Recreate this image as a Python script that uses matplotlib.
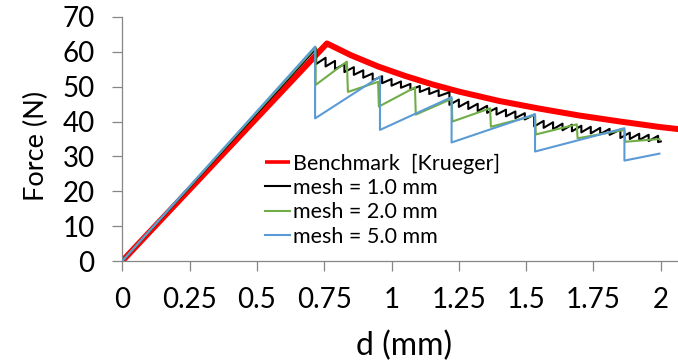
import matplotlib
matplotlib.use("Agg")
import matplotlib.pyplot as plt

plt.rcParams['font.family'] = ['Lato', 'DejaVu Sans']

# Benchmark solution
d_bench = [0.0, 0.76, 0.85, 0.95, 1.05, 1.15, 1.25, 1.40, 1.55, 1.70, 1.85, 2.00, 2.07]
f_bench = [0.0, 62.4, 59.0, 55.8, 53.1, 50.7, 48.6, 45.9, 43.7, 41.7, 40.0, 38.4, 37.8]

# mesh = 1.0 mm : small saw teeth (drop position, value before and after drop)
d_m1 = [0.720, 0.755, 0.790, 0.825, 0.860, 0.895, 0.930, 0.965, 1.000, 1.035,
        1.070, 1.105, 1.140, 1.175, 1.215, 1.250, 1.285, 1.320, 1.355, 1.390,
        1.425, 1.460, 1.495, 1.530, 1.565, 1.600, 1.635, 1.670, 1.705, 1.740,
        1.775, 1.810, 1.850, 1.885, 1.920, 1.955, 1.990]
top_m1 = [61.0, 58.3, 57.4, 56.5, 55.6, 54.7, 53.8, 53.0, 52.2, 51.5,
          50.8, 50.2, 49.6, 49.0, 48.4, 46.3, 45.7, 45.1, 44.5, 43.9,
          43.4, 42.9, 42.4, 42.0, 40.2, 39.8, 39.4, 39.1, 38.8, 38.5,
          38.2, 37.9, 37.7, 36.8, 36.5, 36.2, 35.9]
low_m1 = [56.5, 55.8, 55.0, 54.2, 53.4, 52.6, 51.8, 51.0, 50.3, 49.7,
          49.1, 48.5, 47.9, 47.3, 44.8, 44.2, 43.6, 43.0, 42.5, 42.0,
          41.5, 41.0, 40.6, 38.6, 38.2, 37.8, 37.5, 37.2, 36.9, 36.6,
          36.4, 36.2, 35.3, 35.0, 34.7, 34.4, 34.1]

# mesh = 2.0 mm
d_m2 = [0.0, 0.718, 0.718, 0.834, 0.838, 0.950, 0.953, 1.087, 1.090, 1.223,
        1.226, 1.366, 1.369, 1.533, 1.536, 1.688, 1.691, 1.865, 1.868, 1.995]
f_m2 = [0.0, 61.3, 50.5, 57.2, 48.5, 51.4, 44.3, 49.8, 42.0, 46.5,
        40.0, 43.8, 38.5, 41.8, 36.3, 39.2, 35.2, 37.6, 34.2, 35.0]

# mesh = 5.0 mm
d_m5 = [0.0, 0.716, 0.716, 0.957, 0.957, 1.223, 1.223, 1.533, 1.533, 1.865, 1.865, 1.995]
f_m5 = [0.0, 61.5, 40.9, 52.9, 37.6, 47.0, 34.0, 42.1, 31.4, 38.1, 28.8, 30.8]

xticks = [0, 0.25, 0.5, 0.75, 1, 1.25, 1.5, 1.75, 2]
xlabels = ['0', '0.25', '0.5', '0.75', '1', '1.25', '1.5', '1.75', '2']
yticks = [0, 10, 20, 30, 40, 50, 60, 70]

# build the stepped path for the fine mesh
x1 = [0.0]
y1 = [0.0]
for xd, hi, lo in zip(d_m1, top_m1, low_m1):
    x1 += [xd, xd]
    y1 += [hi, lo]
x1.append(2.0)
y1.append(34.3)

fig = plt.figure(figsize=(6.78, 3.61), dpi=100)
ax = fig.add_axes([0.1804, 0.277, 0.8196, 0.676])

ax.plot(d_bench, f_bench, color='#ff0000', lw=4.3, label='Benchmark  [Krueger]',
        solid_capstyle='butt', zorder=2)
ax.plot(x1, y1, color='black', lw=1.5, label='mesh = 1.0 mm', zorder=3)
ax.plot(d_m2, f_m2, color='#70ad47', lw=1.5, label='mesh = 2.0 mm', zorder=4)
ax.plot(d_m5, f_m5, color='#5b9bd5', lw=1.5, label='mesh = 5.0 mm', zorder=5)

ax.set_xlim(0, 2.064)
ax.set_ylim(0, 70)
ax.set_xticks(xticks)
ax.set_xticklabels(xlabels)
ax.set_yticks(yticks)

for s in ['top', 'right']:
    ax.spines[s].set_visible(False)
for s in ['left', 'bottom']:
    ax.spines[s].set_color('#868686')
    ax.spines[s].set_linewidth(0.9)
ax.tick_params(axis='both', direction='out', length=7, width=0.9, color='#868686',
               labelsize=20)
ax.tick_params(axis='y', pad=13)
ax.tick_params(axis='x', pad=12)

ax.set_xlabel('d (mm)', fontsize=23)
ax.set_ylabel('Force (N)', fontsize=19.5)
ax.xaxis.set_label_coords(0.507, -0.285)
ax.yaxis.set_label_coords(-0.132, 0.47)

leg = ax.legend(loc='center left', bbox_to_anchor=(0.391, 0.446), bbox_transform=fig.transFigure,
                frameon=False, fontsize=15.5, handlelength=1.15, handletextpad=0.15,
                labelspacing=0.2, borderpad=0, borderaxespad=0)
leg.get_lines()[0].set_linewidth(2.6)

fig.savefig('out.png', dpi=100)
